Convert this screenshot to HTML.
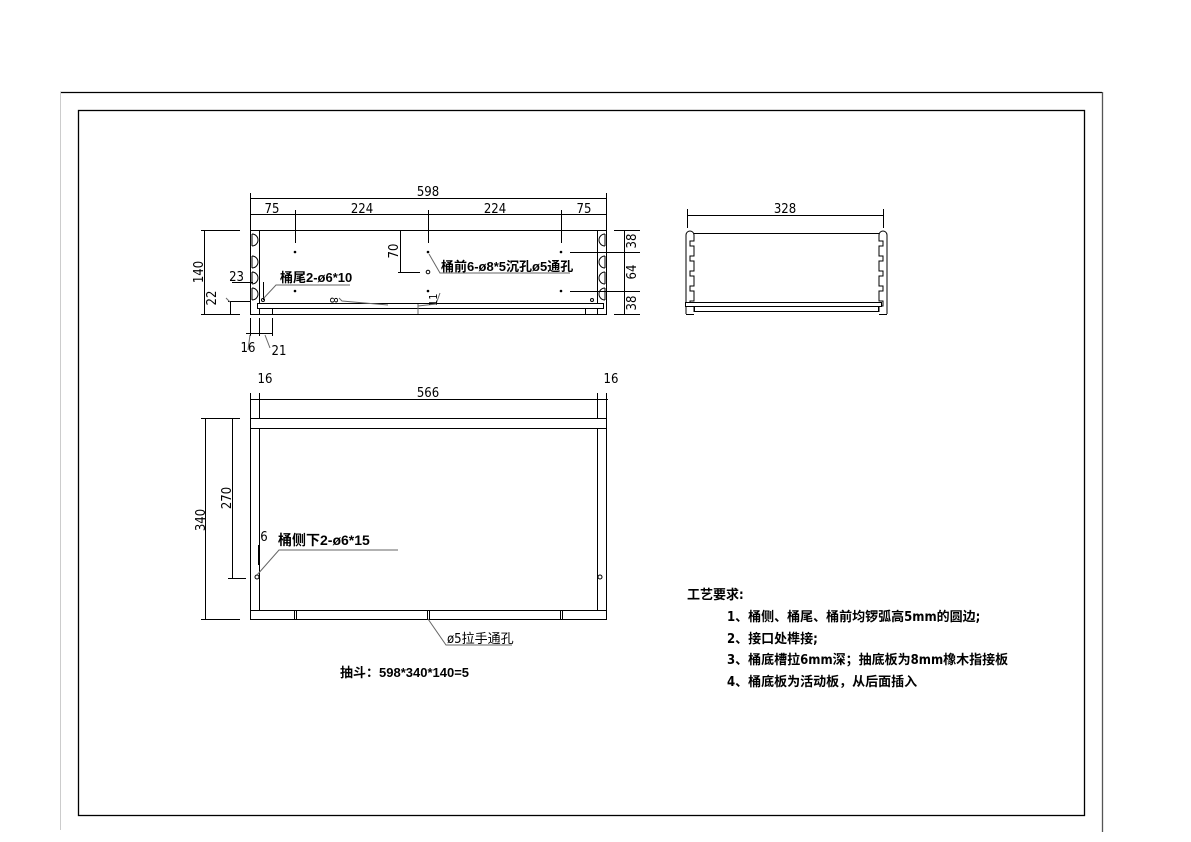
<!DOCTYPE html>
<html><head><meta charset="utf-8"><style>
html,body{margin:0;padding:0;background:#fff;width:1191px;height:842px;overflow:hidden}
svg{display:block}
text{font-family:"DejaVu Sans Condensed","Liberation Sans","Noto Sans CJK SC",sans-serif;fill:#000}
.c{font-family:"Liberation Sans","Noto Sans CJK SC",sans-serif;font-weight:bold}
</style></head><body>
<svg width="1191" height="842" viewBox="0 0 1191 842" xmlns="http://www.w3.org/2000/svg">
<g fill="none" stroke="#000" stroke-width="1">
<line x1="60" y1="92.5" x2="1102" y2="92.5" stroke-width="1.3"/>
<line x1="60.5" y1="92" x2="60.5" y2="830" stroke="#ccc"/>
<line x1="1102.5" y1="92" x2="1102.5" y2="832" stroke="#555" stroke-width="1.3"/>
<rect x="78.5" y="110.5" width="1006" height="705" stroke-width="1.3"/>

<rect x="250.5" y="230.5" width="356" height="84"/>
<line x1="259.5" y1="230" x2="259.5" y2="303"/>
<line x1="597.5" y1="230" x2="597.5" y2="303"/>
<rect x="257.5" y="303.5" width="346" height="5" fill="#fff"/>
<rect x="272.5" y="308.5" width="313" height="6" fill="#fff"/>
<line x1="259.5" y1="308" x2="259.5" y2="314"/>
<line x1="597.5" y1="308" x2="597.5" y2="314"/>
<path d="M252 234 v12 M252 234 a6 6 0 0 1 0 12 M252 256 a6 6 0 0 1 0 12 M252 256 v12 M252 272 a6 6 0 0 1 0 12 M252 272 v12 M252 288 a6 6 0 0 1 0 12 M252 288 v12"/>
<path d="M605 234 a6 6 0 0 0 0 12 M605 234 v12 M605 256 a6 6 0 0 0 0 12 M605 256 v12 M605 272 a6 6 0 0 0 0 12 M605 272 v12 M605 288 a6 6 0 0 0 0 12 M605 288 v12"/>
<line x1="250" y1="198.5" x2="607" y2="198.5"/>
<line x1="250" y1="214.5" x2="607" y2="214.5"/>
<line x1="250.5" y1="193" x2="250.5" y2="230"/>
<line x1="606.5" y1="193" x2="606.5" y2="230"/>
<line x1="295.5" y1="210" x2="295.5" y2="243"/>
<line x1="428.5" y1="210" x2="428.5" y2="243"/>
<line x1="561.5" y1="210" x2="561.5" y2="243"/>
<line x1="400.5" y1="230" x2="400.5" y2="272"/>
<line x1="398" y1="272.5" x2="420" y2="272.5"/>
<line x1="204.5" y1="230" x2="204.5" y2="314"/>
<line x1="201" y1="230.5" x2="240" y2="230.5"/>
<line x1="201" y1="314.5" x2="240" y2="314.5"/>
<line x1="230.5" y1="302" x2="230.5" y2="314"/>
<line x1="228" y1="301.5" x2="250" y2="301.5"/>
<line x1="226" y1="298" x2="230" y2="302" stroke="#666"/>
<line x1="232" y1="282.5" x2="253" y2="282.5"/>
<line x1="263.5" y1="282" x2="263.5" y2="300"/>
<line x1="250.5" y1="318" x2="250.5" y2="336"/>
<line x1="259.5" y1="318" x2="259.5" y2="336"/>
<line x1="272.5" y1="318" x2="272.5" y2="336"/>
<line x1="246" y1="333.5" x2="273" y2="333.5"/>
<line x1="250" y1="335" x2="248" y2="350" stroke="#666"/>
<line x1="265" y1="335" x2="270" y2="348" stroke="#666"/>
<line x1="624.5" y1="230" x2="624.5" y2="314"/>
<line x1="614" y1="230.5" x2="640" y2="230.5"/>
<line x1="570" y1="252.5" x2="640" y2="252.5"/>
<line x1="570" y1="291.5" x2="640" y2="291.5"/>
<line x1="614" y1="314.5" x2="640" y2="314.5"/>
<path d="M263 299 L276 285 L350 285" stroke="#666"/>
<path d="M429 254 L440 273 L570 273" stroke="#666"/>
<path d="M339 298 L342 301 L388 305" stroke="#666"/>
<path d="M418 304 L418 314 M418 306 L436 304 L440 293" stroke="#666"/>
<circle cx="428" cy="272" r="1.8"/>
<circle cx="263" cy="300" r="1.5"/>
<circle cx="592" cy="300" r="1.5"/>
</g>
<g fill="#000">
<circle cx="295" cy="252" r="1.3"/><circle cx="428" cy="252" r="1.3"/><circle cx="561" cy="252" r="1.3"/>
<circle cx="295" cy="291" r="1.3"/><circle cx="428" cy="291" r="1.3"/><circle cx="561" cy="291" r="1.3"/>
</g>
<g font-size="13">
<text x="428" y="196" text-anchor="middle">598</text>
<text x="272" y="213" text-anchor="middle">75</text>
<text x="362" y="213" text-anchor="middle">224</text>
<text x="495" y="213" text-anchor="middle">224</text>
<text x="584" y="213" text-anchor="middle">75</text>
<text x="244" y="281" text-anchor="end">23</text>
<text x="248" y="352" text-anchor="middle">16</text>
<text x="279" y="355" text-anchor="middle">21</text>
<text transform="translate(203,272) rotate(-90)" text-anchor="middle">140</text>
<text transform="translate(216,298) rotate(-90)" text-anchor="middle">22</text>
<text transform="translate(398,251) rotate(-90)" text-anchor="middle">70</text>
<text transform="translate(636,241) rotate(-90)" text-anchor="middle">38</text>
<text transform="translate(636,272) rotate(-90)" text-anchor="middle">64</text>
<text transform="translate(636,303) rotate(-90)" text-anchor="middle">38</text>
<text transform="translate(330,297) rotate(90)" font-size="11">8</text>
<text transform="translate(437,306) rotate(-90)" font-size="11">11</text>
<text x="280" y="282" class="c" font-size="13">桶尾2-ø6*10</text>
<text x="441" y="271" class="c" font-size="13">桶前6-ø8*5沉孔ø5通孔</text>
</g>

<g fill="none" stroke="#000" stroke-width="1">
<line x1="688" y1="215.5" x2="884" y2="215.5"/>
<line x1="687.5" y1="209" x2="687.5" y2="228"/>
<line x1="883.5" y1="209" x2="883.5" y2="228"/>
<path d="M686 314 L686 235 a4 4 0 0 1 8 0"/>
<path d="M694 235 v6 h-4 v5 h4 v10 h-4 v5 h4 v10 h-4 v5 h4 v10 h-4 v5 h4 v10 h-4 v5 h4 v6"/>
<path d="M887 314 L887 235 a4 4 0 0 0 -8 0"/>
<path d="M879 235 v6 h4 v5 h-4 v10 h4 v5 h-4 v10 h4 v5 h-4 v10 h4 v5 h-4 v10 h4 v5 h-4 v6"/>
<line x1="694" y1="233.5" x2="879" y2="233.5"/>
<rect x="685.5" y="302.5" width="196" height="4" fill="#fff"/>
<rect x="694.5" y="306.5" width="184" height="5"/>
<line x1="686" y1="314.5" x2="694" y2="314.5"/>
<line x1="879" y1="314.5" x2="887" y2="314.5"/>
</g>
<text x="785" y="213" text-anchor="middle" font-size="13">328</text>

<g fill="none" stroke="#000" stroke-width="1">
<rect x="250.5" y="418.5" width="356" height="201"/>
<line x1="250" y1="428.5" x2="607" y2="428.5"/>
<line x1="250" y1="610.5" x2="607" y2="610.5"/>
<line x1="259.5" y1="428" x2="259.5" y2="610"/>
<line x1="597.5" y1="428" x2="597.5" y2="610"/>
<line x1="294.5" y1="610" x2="294.5" y2="619"/><line x1="296.5" y1="610" x2="296.5" y2="619"/>
<line x1="427.5" y1="610" x2="427.5" y2="619"/><line x1="429.5" y1="610" x2="429.5" y2="619"/>
<line x1="560.5" y1="610" x2="560.5" y2="619"/><line x1="562.5" y1="610" x2="562.5" y2="619"/>
<line x1="250" y1="399.5" x2="608" y2="399.5"/>
<line x1="250.5" y1="393" x2="250.5" y2="418"/>
<line x1="259.5" y1="393" x2="259.5" y2="418"/>
<line x1="597.5" y1="393" x2="597.5" y2="418"/>
<line x1="606.5" y1="393" x2="606.5" y2="418"/>
<line x1="205.5" y1="418" x2="205.5" y2="619"/>
<line x1="201" y1="418.5" x2="240" y2="418.5"/>
<line x1="201" y1="619.5" x2="240" y2="619.5"/>
<line x1="232.5" y1="418" x2="232.5" y2="578"/>
<line x1="228" y1="578.5" x2="246" y2="578.5"/>
<line x1="258.5" y1="545" x2="258.5" y2="565"/>
<circle cx="257" cy="577" r="2"/>
<circle cx="600" cy="577" r="2"/>
<path d="M257 575 L279 550 L398 550" stroke="#666"/>
<path d="M428 619 L446 645 L512 645" stroke="#666"/>
</g>
<g font-size="13">
<text x="265" y="383" text-anchor="middle">16</text>
<text x="611" y="383" text-anchor="middle">16</text>
<text x="428" y="397" text-anchor="middle">566</text>
<text x="264" y="541" text-anchor="middle">6</text>
<text transform="translate(205,520) rotate(-90)" text-anchor="middle">340</text>
<text transform="translate(231,498) rotate(-90)" text-anchor="middle">270</text>
<text x="278" y="545" class="c" font-size="14">桶侧下2-ø6*15</text>
<text x="447" y="643" font-size="13">ø5拉手通孔</text>
<text x="340" y="677" class="c" font-size="13">抽斗：598*340*140=5</text>
</g>
<g class="c" font-size="13">
<text x="687" y="599">工艺要求:</text>
<text x="727" y="621">1、桶侧、桶尾、桶前均锣弧高5mm的圆边;</text>
<text x="727" y="643">2、接口处榫接;</text>
<text x="727" y="664">3、桶底槽拉6mm深；抽底板为8mm橡木指接板</text>
<text x="727" y="686">4、桶底板为活动板，从后面插入</text>
</g>
</svg>
</body></html>
